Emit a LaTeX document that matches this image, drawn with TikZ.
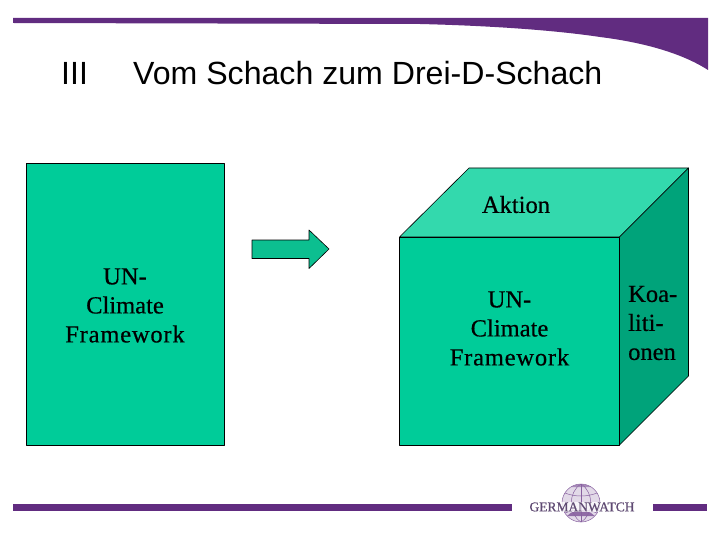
\documentclass[tikz,border=0pt]{standalone}
\usepackage{fontspec}
\setmainfont{Liberation Serif}
\newfontfamily\arialf{Liberation Sans}
\newfontfamily\labelf[FakeBold=0.5]{Liberation Serif}
\newfontfamily\spacedf[FakeBold=0.5,LetterSpace=3.3]{Liberation Serif}
\newfontfamily\logof[FakeBold=0.4]{Liberation Serif}
\definecolor{gwpurple}{HTML}{612C80}
\definecolor{front}{HTML}{00CC99}
\definecolor{topface}{HTML}{33D9AD}
\definecolor{sideface}{HTML}{00A37A}
\definecolor{arrowfill}{HTML}{0CBF90}
\definecolor{logotext}{HTML}{5F4A73}
\tikzset{
  facebox/.style={draw=black,line width=0.6pt,line join=round},
  boxlabel/.style={font=\labelf\fontsize{24.5pt}{29pt}\selectfont,align=center,text=black,inner sep=0pt},
  titletext/.style={font=\arialf\fontsize{32.1pt}{36pt}\selectfont,text=black,inner sep=0pt,anchor=base west},
  band/.style={fill=gwpurple,draw=none},
  globeline/.style={draw=gwpurple!75,line width=0.5pt}
}
\begin{document}
\begin{tikzpicture}[x=1pt,y=-1pt]
\useasboundingbox (0,0) rectangle (720,540);
\fill[white] (0,0) rectangle (720,540);
% header band
\fill[band] (13,18) -- (708,18) -- (708,70)
  .. controls (680,52) and (640,42) .. (600,37)
  .. controls (560,31) and (500,26) .. (420,24) -- (13,23) -- cycle;
% footer bands
\fill[band] (13,504) rectangle (512,511);
\fill[band] (653,504) rectangle (707,511);
% title
\node[titletext] (num) at (61,85) {III};
\node[titletext] (title) at (133,85) {Vom Schach zum Drei-D-Schach};
% left box
\node[facebox,fill=front,minimum width=198pt,minimum height=282pt,inner sep=0pt,anchor=north west] (left) at (25.5,163) {};
\node[boxlabel] (leftlabel) at (125,305.5) {UN-\\Climate\\{\spacedf\fontsize{24.5pt}{29pt}\selectfont Framework}};
% arrow
\draw[facebox,fill=arrowfill] (252,240) -- (309,240) -- (309,230) -- (329,249) -- (309,268.5) -- (309,258.5) -- (252,258.5) -- cycle;
% cube
\draw[facebox,fill=topface] (399.5,237) -- (469,168) -- (688.5,168) -- (619.5,237) -- cycle;
\draw[facebox,fill=sideface] (619.5,237) -- (688.5,168) -- (688.5,376) -- (619.5,445) -- cycle;
\draw[facebox,fill=front] (399.5,237) rectangle (619.5,445);
\node[boxlabel] (aktion) at (516,204.5) {Aktion};
\node[boxlabel] (frontlabel) at (509.5,328.5) {UN-\\Climate\\{\spacedf\fontsize{24.5pt}{29pt}\selectfont Framework}};
\node[boxlabel,align=left,anchor=west] (side) at (628,323) {Koa-\\liti-\\onen};
% logo
\fill[gwpurple!18] (581,503) circle (19);
\fill[gwpurple!70] (581,503) ++(-14,13) arc[start angle=223,end angle=317,radius=19] -- cycle;
\fill[gwpurple!55] (581,503) ++(-10,-16) arc[start angle=238,end angle=302,radius=19] -- cycle;
\draw[globeline] (581,503) circle (19);
\draw[globeline] (581,484) -- (581,522);
\draw[globeline] (581,484) .. controls (568,492) and (568,514) .. (581,522);
\draw[globeline] (581,484) .. controls (594,492) and (594,514) .. (581,522);
\draw[globeline] (565,493) .. controls (575,497) and (587,497) .. (597,493);
\draw[globeline] (565,513) .. controls (575,509) and (587,509) .. (597,513);
\fill[white,opacity=0.75] (560,502) rectangle (602,512);
\node[inner sep=0pt,text=logotext,font=\logof\fontsize{13.5pt}{14pt}\selectfont] (logo) at (582,507) {GERMANWATCH};
\end{tikzpicture}
\end{document}
